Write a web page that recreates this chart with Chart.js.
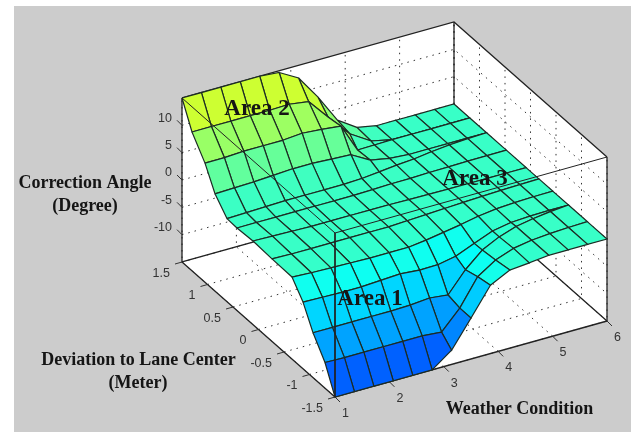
<!DOCTYPE html>
<html><head><meta charset="utf-8">
<style>html,body{margin:0;padding:0;background:#fff}canvas{display:block}</style>
<script src="https://cdn.jsdelivr.net/npm/chart.js@4"></script>
</head><body><canvas id="c" width="634" height="432"></canvas>
<script>
// ---- data ----
const xGrid = [1,1.357,1.714,2.071,2.429,2.786,3.143,3.5,3.857,4.214,4.571,4.929,5.286,5.643,6];
// the mesh is not rectangular: each row has its own y per column
const yRow0  = [1.5,1.5,1.5,1.5,1.5,1.5,1.5,1.5,1.5,1.5,1.5,1.5,1.5,1.5,1.5];
const yRow1  = [1.304,1.304,1.304,1.304,1.304,1.304,1.304,1.304,1.26,1.22,1.19,1.19,1.19,1.19,1.19];
const yRow2  = [1.049,1.049,1.049,1.049,1.049,1.049,1.049,1.049,1.105,1.155,1.19,1.19,1.19,1.19,1.19];
const yRow3  = [.853,.853,.853,.853,.853,.853,.853,.853,.856,.86,.861,.861,.861,.861,.861];
const yRow4  = [.618,.618,.618,.618,.618,.618,.618,.64,.68,.72,.76,.80,.83,.85,.861];
const yRow5  = [.422,.422,.422,.422,.422,.422,.422,.43,.44,.45,.46,.465,.47,.472,.474];
const yRow6  = [.108,.108,.108,.108,.108,.108,.108,.106,.1,.096,.092,.09,.088,.087,.087];
const yRow7  = [-.265,-.265,-.265,-.265,-.265,-.265,-.265,-.25,-.235,-.22,-.205,-.19,-.18,-.17,-.165];
const yRow8  = [-.657,-.657,-.657,-.657,-.657,-.657,-.657,-.62,-.58,-.54,-.5,-.47,-.45,-.44,-.435];
const yRow9  = [-.873,-.873,-.873,-.873,-.873,-.873,-.873,-.85,-.82,-.8,-.78,-.76,-.75,-.745,-.745];
const yRow10 = [-1.069,-1.069,-1.069,-1.069,-1.069,-1.069,-1.069,-1.05,-1.01,-.96,-.91,-.86,-.81,-.77,-.745];
const yRow11 = [-1.304,-1.304,-1.304,-1.304,-1.304,-1.304,-1.304,-1.28,-1.25,-1.22,-1.19,-1.165,-1.14,-1.125,-1.113];
const yRow12 = [-1.5,-1.5,-1.5,-1.5,-1.5,-1.5,-1.5,-1.5,-1.5,-1.5,-1.5,-1.5,-1.5,-1.5,-1.5];
const zRow0  = [15,15,15,15,15,14.7,12.7,8.2,3,0.7,0,0,0,0,0];
const zRow1  = [10.4,10.4,10.4,10.4,10.4,10.5,10,6.2,2.5,0.5,0,0,0,0,0];
const zRow2  = [6.8,6.8,7,7,7,7.3,7,6.6,0.8,0.3,0,0,0,0,0];
const zRow3  = [2.8,2.9,3,3.2,3.4,3.4,3.2,3,1,0.3,0,0,0,0,0];
const zRow4  = [0.2,0.3,0.4,0.5,0.5,0.5,0.5,0.4,0.3,0.2,0,0,0,0,0];
const zRow5  = [0.1,0.1,0.1,0.1,0.1,0.1,0.1,0.1,0.1,0,0,0,0,0,0];
const zRow6  = [0.3,0.2,0.1,0,0,0,0,0,0,0,0,0,0,0,0];
const zRow7  = [0.1,0,0,0,0,0,0,0,0,0,0,0,0,0,0];
const zRow8  = [0,-0.2,-0.3,-0.4,-0.5,-0.5,-0.5,-0.5,-0.4,-0.3,-0.1,0,0,0,0];
const zRow9  = [-2.8,-2.9,-3,-3,-2.8,-2.6,-2.9,-3.1,-2.8,-1.6,-0.5,-0.1,0,0,0];
const zRow10 = [-6.8,-6.8,-6.8,-6.8,-6.8,-6.7,-6.4,-7,-3.7,-1.5,-0.5,0,0,0,0];
const zRow11 = [-10.3,-10.4,-10.4,-10.4,-10.4,-10.4,-10.7,-7.5,-3,-1.2,-0.3,0,0,0,0];
const zRow12 = [-15,-15,-15,-15,-15,-15,-12.4,-7.5,-2.5,-0.7,-0.4,0,0,0,0];
const yRows = [yRow0,yRow1,yRow2,yRow3,yRow4,yRow5,yRow6,yRow7,yRow8,yRow9,yRow10,yRow11,yRow12];
const zRows = [zRow0,zRow1,zRow2,zRow3,zRow4,zRow5,zRow6,zRow7,zRow8,zRow9,zRow10,zRow11,zRow12];
const xTicks = [1,2,3,4,5,6];
const yTicks = [-1.5,-1,-0.5,0,0.5,1,1.5];
const zTicks = [-10,-5,0,5,10];
const xLim = [1,6], yLim = [-1.5,1.5], zLim = [-15,15];
const zTitle = ['Correction Angle','(Degree)'];
const yTitle = ['Deviation to Lane Center','(Meter)'];
const xTitle = ['Weather Condition'];
const areaLabels = ['Area 1','Area 2','Area 3'];

// ---- orthographic view of the MATLAB axes ----
const view = {ox:335, oy:397, xx:54.4, xy:-15.2, yx:-51, yy:-45, zy:-5.467};
function P(x,y,z){
  return {x: view.ox + (x-xLim[0])*view.xx + (y-yLim[0])*view.yx,
          y: view.oy + (x-xLim[0])*view.xy + (y-yLim[0])*view.yy + (z-zLim[0])*view.zy};
}
function jet(z){
  const v = 0.43 + 0.014*z;
  const c = t => Math.round(255*Math.max(0,Math.min(1,1.5-Math.abs(4*v-t))));
  return `rgb(${c(3)},${c(2)},${c(1)})`;
}
const ds = [];
const poly = (pts,fill,stroke,w,dash) => ds.push({
  data: fill ? pts.concat([pts[0]]) : pts, showLine:true, pointRadius:0, pointHoverRadius:0,
  fill: fill ? 'shape' : false, backgroundColor: fill || 'transparent',
  borderColor: stroke || 'transparent', borderWidth: stroke ? (w||1) : 0,
  borderDash: dash || [], tension:0, clip:false
});
const [x0,x1]=xLim,[y0,y1]=yLim,[z0,z1]=zLim;
// walls and floor
poly([P(x0,y0,z0),P(x1,y0,z0),P(x1,y1,z0),P(x0,y1,z0)],'#fff');
poly([P(x0,y1,z0),P(x1,y1,z0),P(x1,y1,z1),P(x0,y1,z1)],'#fff');
poly([P(x1,y1,z0),P(x1,y0,z0),P(x1,y0,z1),P(x1,y1,z1)],'#fff');
// dotted grids
const DOT=[1.5,5], GC='#333';
xTicks.forEach(t=>{ poly([P(t,y0,z0),P(t,y1,z0),P(t,y1,z1)],null,GC,1,DOT); });
yTicks.forEach(t=>{ poly([P(x0,t,z0),P(x1,t,z0),P(x1,t,z1)],null,GC,1,DOT); });
zTicks.forEach(t=>{ poly([P(x0,y1,t),P(x1,y1,t),P(x1,y0,t)],null,GC,1,DOT); });
// back box edges
const EC='#222';
poly([P(x0,y1,z1),P(x1,y1,z1),P(x1,y0,z1)],null,EC,1.3);
poly([P(x0,y1,z1),P(x0,y1,z0),P(x1,y1,z0),P(x1,y0,z0)],null,EC,1.3);
poly([P(x1,y1,z0),P(x1,y1,z1)],null,EC,1.3);
poly([P(x1,y0,z0),P(x1,y0,z1)],null,EC,1.3);
poly([P(x0,y1,z0),P(x0,y0,z0),P(x1,y0,z0)],null,EC,1.3);
// ticks
const tick=(a,dx,dy)=>poly([a,{x:a.x+dx,y:a.y+dy}],null,'#333',1);
xTicks.forEach(t=>tick(P(t,y0,z0),5,5));
yTicks.forEach(t=>tick(P(x0,t,z0),-7,2));
zTicks.forEach(t=>tick(P(x0,y1,t),-5,-5));
// surface, far cells first; each cell takes the colour of its low-x, low-y corner
for(let k=0;k<zRows.length-1;k++){
  for(let i=xGrid.length-2;i>=0;i--){
    poly([P(xGrid[i],yRows[k][i],zRows[k][i]),P(xGrid[i+1],yRows[k][i+1],zRows[k][i+1]),
          P(xGrid[i+1],yRows[k+1][i+1],zRows[k+1][i+1]),P(xGrid[i],yRows[k+1][i],zRows[k+1][i])],
         jet(zRows[k+1][i]),'#1c2c24',1.2);
  }
}
// front box edges, drawn over the surface
poly([P(x0,y1,z1),P(x0,y0,z1),P(x1,y0,z1)],null,EC,1);
poly([P(x0,y0,z1),P(x0,y0,z0)],null,EC,1);
ds.forEach((d,i)=>d.order=-i);

const labels = {
  id:'labels',
  beforeDraw(c){ const g=c.ctx; g.save(); g.fillStyle='#cccccc'; g.fillRect(14,6,617,426); g.restore(); },
  afterDraw(c){
    const g=c.ctx; g.save(); g.textBaseline='middle';
    g.fillStyle='#333'; g.font='12.5px "Liberation Sans"';
    g.textAlign='right';
    zTicks.forEach(t=>{const p=P(x0,y1,t); g.fillText(String(t),p.x-10,p.y-7);});
    yTicks.forEach(t=>{const p=P(x0,t,z0); g.fillText(String(t),p.x-12,p.y+11.5);});
    g.textAlign='center';
    xTicks.forEach(t=>{const p=P(t,y0,z0); g.fillText(String(t),p.x+10.5,p.y+16.5);});
    g.fillStyle='#151515'; g.font='bold 18px "Liberation Serif"';
    g.fillText(zTitle[0],85,183); g.fillText(zTitle[1],85,206);
    g.fillText(yTitle[0],138.5,360); g.fillText(yTitle[1],138,383);
    g.fillText(xTitle[0],519.5,409);
    g.font='bold 23px "Liberation Serif"';
    g.fillText(areaLabels[0],370,299); g.fillText(areaLabels[1],257,109); g.fillText(areaLabels[2],475,179);
    g.restore();
  }
};
new Chart(document.getElementById('c'),{
  type:'scatter',
  data:{datasets:ds},
  plugins:[labels],
  options:{
    responsive:false, animation:false, events:[],
    layout:{padding:0},
    plugins:{legend:{display:false},tooltip:{enabled:false},title:{display:false}},
    scales:{
      x:{type:'linear',min:0,max:634,display:false},
      y:{type:'linear',min:0,max:432,reverse:true,display:false}
    }
  }
});
</script></body></html>
